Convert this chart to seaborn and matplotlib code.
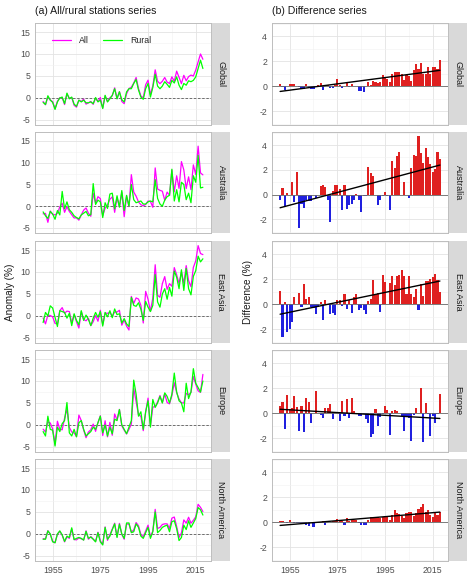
import numpy as np
import pandas as pd
import matplotlib
matplotlib.use("Agg")
import matplotlib.pyplot as plt
from matplotlib.lines import Line2D
import seaborn as sns

# --- data ---
years = list(range(1951, 2019))
regions = ["Global", "Australia", "East Asia", "Europe", "North America"]

global_all = [-0.8, -1.55, 0.2, -0.45, -0.85, -2.45, -0.75, 0.05, 0.1, -1.5,
              0.9, -0.05, 0.1, -1.65, -2.1, -0.5, -0.8, -0.25, -1.4, -1.1,
              -0.8, -1.45, -0.05, -0.8, 0.1, -2.3, 0.45, -0.85, 0.05, 0.5,
              2.3, -0.15, 1.45, -0.8, -1.3, 0.95, 2.15, 2.45, 3.4, 4.65,
              2.15, 0.45, 0.05, 3.0, 4.05, 0.75, 2.75, 6.4, 3.8, 3.25,
              3.8, 4.65, 3.6, 3.3, 4.8, 3.8, 6.1, 4.7, 3.25, 5.15,
              3.9, 4.85, 5.2, 5.0, 6.35, 8.2, 10.0, 8.8]
global_rural = [-1.0, -1.5, 0.5, -0.5, -1.0, -2.6, -0.9, 0.0, 0.2, -1.3,
                1.1, -0.2, 0.2, -1.4, -1.9, -0.5, -0.9, -0.5, -1.1, -1.1,
                -0.9, -1.3, 0.1, -0.9, -0.5, -2.4, 0.6, -0.9, -0.2, 0.6,
                2.1, -0.2, 1.4, -0.4, -0.9, 1.4, 2.1, 2.1, 3.3, 4.2,
                1.8, 0.2, -0.3, 2.1, 3.3, 0.2, 2.4, 5.4, 2.7, 2.1,
                2.7, 3.7, 3.1, 2.4, 4.0, 3.4, 4.8, 2.9, 1.9, 3.3,
                2.9, 3.9, 3.7, 4.0, 4.8, 6.7, 8.6, 6.7]
global_diff = [0.2, -0.05, -0.3, 0.05, 0.15, 0.15, 0.15, 0.05, -0.1, -0.2,
               -0.2, 0.15, -0.1, -0.25, -0.2, 0.0, 0.1, 0.25, -0.3, 0.0,
               0.1, -0.15, -0.15, 0.1, 0.6, 0.1, -0.15, 0.05, 0.25, -0.1,
               0.2, 0.05, 0.05, -0.4, -0.4, -0.45, 0.05, 0.35, 0.1, 0.45,
               0.35, 0.25, 0.35, 0.9, 0.75, 0.55, 0.35, 1.0, 1.1, 1.15,
               1.1, 0.95, 0.5, 0.9, 0.8, 0.4, 1.3, 1.8, 1.35, 1.85,
               1.0, 0.95, 1.5, 1.0, 1.55, 1.5, 1.4, 2.1]

australia_all = [-1.75, -1.65, -3.7, -1.1, -1.85, -2.0, -1.6, -0.15, 0.7, -1.4,
                 -0.1, -1.2, -1.95, -2.7, -2.65, -3.2, -2.0, -0.9, -0.4, -1.6,
                 -2.3, 3.0, 0.7, 2.2, 1.75, -2.15, -0.45, 0.3, 1.6, 2.15,
                 -1.4, 1.95, -0.15, 3.15, -2.4, 2.35, -0.1, 7.25, 3.25, 2.3,
                 1.0, 0.35, 0.1, 0.4, 1.2, 1.1, -0.25, 8.8, 3.95, 3.65,
                 3.45, 1.35, 3.25, 2.5, 8.25, 3.35, 7.0, 4.1, 10.25, 8.35,
                 4.05, 6.75, 3.8, 9.5, 7.3, 13.8, 7.65, 7.2]
australia_rural = [-1.3, -2.2, -2.8, -1.2, -1.8, -3.0, -1.0, -2.0, 3.4, -0.6,
                   1.0, -0.8, -1.4, -2.2, -2.6, -2.9, -2.0, -1.6, -1.2, -2.2,
                   -1.9, 5.2, 0.4, 1.4, 1.0, -2.6, 0.8, -0.5, 2.8, 3.0,
                   -0.6, 2.4, -0.2, 3.6, -1.0, 2.5, 0.0, 5.0, 1.5, 0.8,
                   1.0, 1.2, 0.5, 0.5, 1.0, 1.2, 1.0, 6.1, 1.8, 0.5,
                   0.0, 1.4, 2.2, 2.5, 8.5, 1.2, 3.8, 1.0, 5.5, 5.0,
                   1.5, 3.0, 0.8, 7.0, 5.5, 11.7, 4.2, 4.35]
australia_diff = [-0.45, 0.55, -0.9, 0.1, -0.05, 1.0, -0.6, 1.85, -2.7, -0.8,
                  -1.1, -0.4, -0.55, -0.5, -0.05, -0.3, 0.0, 0.7, 0.8, 0.6,
                  -0.4, -2.2, 0.3, 0.8, 0.75, 0.45, -1.25, 0.8, -1.2, -0.85,
                  -0.8, -0.45, 0.05, -0.45, -1.4, -0.15, -0.1, 2.25, 1.75, 1.5,
                  0.0, -0.85, -0.4, -0.1, 0.2, -0.1, -1.25, 2.7, 2.15, 3.15,
                  3.45, -0.05, 1.05, 0.0, -0.25, 2.15, 3.2, 3.1, 4.75, 3.35,
                  2.55, 3.75, 3.0, 2.5, 1.8, 2.1, 3.45, 2.85]

eastasia_all = [-0.45, -1.8, 0.2, 0.1, -0.2, -1.7, -1.8, 1.2, 1.9, 0.6,
                1.1, 1.0, -1.6, 0.3, -1.3, -2.75, 1.0, -0.8, -1.1, -0.5,
                -2.2, -1.3, 0.1, -1.2, 1.3, -1.95, 0.65, 0.6, 0.8, -0.05,
                0.9, 0.9, 1.3, -2.1, -0.9, -2.3, -3.2, 4.45, 2.85, 4.1,
                3.85, 2.4, -1.6, 5.6, 3.8, 1.05, 4.1, 11.65, 4.7, 4.25,
                7.35, 8.95, 6.05, 7.35, 6.75, 11.0, 9.35, 7.4, 10.0, 7.45,
                11.45, 8.05, 6.65, 11.05, 12.5, 16.0, 14.2, 13.95]
eastasia_rural = [-1.5, 0.8, 0.0, 2.3, 1.8, -0.3, -2.4, 1.2, 1.0, 0.8,
                  -0.5, 0.6, -2.2, 0.5, -1.0, -2.0, 1.2, -1.0, 0.2, -0.8,
                  -2.2, -0.5, 0.8, -0.3, 1.0, -2.3, 0.8, -0.2, 1.2, -0.4,
                  1.6, 0.3, 0.5, -1.6, -0.6, -1.8, -2.4, 4.2, 2.4, 2.2,
                  3.0, 1.5, -1.0, 3.3, 2.0, 1.0, 2.4, 9.4, 3.2, 2.0,
                  5.0, 6.2, 3.8, 6.5, 4.5, 10.2, 8.8, 6.2, 10.5, 5.8,
                  10.8, 6.2, 4.8, 9.0, 10.3, 13.6, 12.3, 13.0]
eastasia_diff = [1.05, -2.6, 0.2, -2.2, -2.0, -1.4, 0.6, 0.0, 0.9, -0.2,
                 1.6, 0.4, 0.6, -0.2, -0.3, -0.75, -0.2, 0.2, -1.3, 0.3,
                 0.0, -0.8, -0.7, -0.9, 0.3, 0.35, -0.15, 0.8, -0.4, 0.35,
                 -0.7, 0.6, 0.8, -0.5, -0.3, -0.5, -0.8, 0.25, 0.45, 1.9,
                 0.85, 0.9, -0.6, 2.3, 1.8, 0.05, 1.7, 2.25, 1.5, 2.25,
                 2.35, 2.75, 2.25, 0.85, 2.25, 0.8, 0.55, 1.2, -0.5, 1.65,
                 0.65, 1.85, 1.85, 2.05, 2.2, 2.4, 1.9, 0.95]

europe_all = [-0.95, -1.6, 0.7, 0.45, -0.9, -4.35, 0.85, -1.0, -1.1, 1.55,
              3.6, -0.55, -1.6, -1.8, -2.65, 2.25, 1.0, -1.15, -2.9, -1.6,
              -1.1, 0.2, -1.45, 0.55, 2.1, -2.4, 0.95, -2.7, 0.6, -2.35,
              2.5, 1.15, 3.55, -0.2, -1.2, -2.05, -1.0, 0.2, 8.3, 5.3,
              2.3, 1.95, -1.3, 2.95, 6.1, -0.25, 4.05, 4.2, 5.25, 6.7,
              5.05, 7.1, 5.1, 4.8, 6.65, 9.6, 7.35, 5.9, 5.05, 5.0,
              7.2, 6.85, 7.4, 11.0, 9.3, 7.75, 7.4, 11.5]
europe_rural = [-1.5, -2.5, 2.0, -1.0, -1.2, -4.8, -0.5, -1.5, 0.3, 1.0,
                5.1, -1.8, -2.5, -1.0, -2.7, 0.5, 1.0, -1.0, -2.5, -2.0,
                -1.5, -0.5, -1.0, 0.5, 2.0, -1.8, 0.0, -2.5, -0.5, -2.0,
                1.3, 1.0, 3.5, 0.0, -1.0, -2.0, -0.5, 1.0, 10.2, 7.0,
                2.0, 3.0, -1.0, 3.0, 5.5, -0.5, 5.8, 4.0, 5.0, 6.5,
                5.0, 7.3, 6.5, 5.0, 7.0, 11.8, 7.5, 5.5, 5.0, 3.0,
                9.5, 6.0, 7.5, 12.8, 9.5, 8.5, 7.5, 10.0]
europe_diff = [0.55, 0.9, -1.3, 1.45, 0.3, 0.45, 1.35, 0.5, -1.4, 0.55,
               -1.5, 1.25, 0.9, -0.8, 0.05, 1.75, 0.0, -0.15, -0.4, 0.4,
               0.4, 0.7, -0.45, 0.05, 0.1, -0.6, 0.95, -0.2, 1.1, -0.35,
               1.2, 0.15, 0.05, -0.2, -0.2, -0.05, -0.5, -0.8, -1.9, -1.7,
               0.3, -1.05, -0.3, -0.05, 0.6, 0.25, -1.75, 0.2, 0.25, 0.2,
               0.05, -0.2, -1.4, -0.2, -0.35, -2.2, -0.15, 0.4, 0.05, 2.0,
               -2.3, 0.85, -0.1, -1.8, -0.2, -0.75, -0.1, 1.5]

namerica_all = [-1.1, -1.1, 0.75, -0.05, -1.65, -2.0, -0.1, 0.6, -0.3, -1.8,
                -0.65, -1.0, 1.1, -1.25, -1.35, -0.9, -1.1, -1.35, 0.7, -1.2,
                -0.6, -1.15, -1.7, 0.4, -1.55, -2.35, 1.6, -1.45, -0.15, 1.1,
                2.45, -0.65, 2.4, -0.1, -1.2, 2.25, 2.25, 0.45, 0.9, 2.6,
                1.85, -0.1, -0.65, 0.7, 2.0, -0.6, 0.65, 5.6, 1.25, 1.5,
                2.15, 2.3, 2.3, 1.25, 3.6, 3.85, 1.7, -0.8, 0.25, 3.2,
                2.45, 3.8, 2.45, 3.1, 3.9, 6.75, 6.05, 5.1]
namerica_rural = [-1.2, -1.2, 0.7, 0.0, -1.8, -2.0, 0.0, 0.7, -0.2, -1.7,
                  -0.5, -0.8, 1.4, -1.3, -1.0, -0.8, -1.0, -1.4, 0.6, -1.0,
                  -0.7, -1.2, -1.8, 0.3, -1.8, -2.5, 1.5, -1.2, -0.5, 1.0,
                  2.3, -0.8, 2.2, 0.0, -1.0, 2.5, 2.5, 0.3, 0.5, 2.3,
                  1.5, -0.5, -1.0, 0.3, 1.5, -1.0, 0.5, 5.0, 0.3, 0.8,
                  1.5, 1.8, 2.0, 0.5, 2.8, 3.0, 1.2, -1.5, -0.8, 2.0,
                  1.0, 3.0, 1.5, 2.5, 3.5, 6.0, 5.5, 4.3]
namerica_diff = [0.1, 0.1, 0.05, -0.05, 0.15, 0.0, -0.1, -0.1, -0.1, -0.1,
                 -0.15, -0.2, -0.3, 0.05, -0.35, -0.1, -0.1, 0.05, 0.1, -0.2,
                 0.1, 0.05, 0.1, 0.1, 0.25, 0.15, 0.1, -0.25, 0.35, 0.1,
                 0.15, 0.15, 0.2, -0.1, -0.2, -0.25, -0.25, 0.15, 0.4, 0.3,
                 0.35, 0.4, 0.35, 0.4, 0.5, 0.4, 0.15, 0.6, 0.95, 0.7,
                 0.65, 0.5, 0.3, 0.75, 0.8, 0.85, 0.5, 0.7, 1.05, 1.2,
                 1.45, 0.8, 0.95, 0.6, 0.4, 0.75, 0.55, 0.8]

all_series = [global_all, australia_all, eastasia_all, europe_all, namerica_all]
rural_series = [global_rural, australia_rural, eastasia_rural, europe_rural, namerica_rural]
diff_series = [global_diff, australia_diff, eastasia_diff, europe_diff, namerica_diff]

# --- style ---
sns.set_theme(style="white")
plt.rcParams["font.family"] = ["Liberation Sans", "DejaVu Sans"]
TICK = "#4D4D4D"
GRID_MAJ = "#E3E3E3"
GRID_MIN = "#F1F1F1"
BORDER = "#BDBDBD"
STRIP = "#D9D9D9"
W, H = 474, 582

fig = plt.figure(figsize=(W / 100, H / 100), dpi=100)


def rect(x0, y0, x1, y1):
    return [x0 / W, 1 - y1 / H, (x1 - x0) / W, (y1 - y0) / H]


rows = [(23, 125), (132, 233), (241, 343), (350, 452), (459, 561)]
left_x = (35, 211)
right_x = (272, 448)


def style_axes(ax, yticks, yminor, bottom):
    ax.set_xlim(1947.6, 2021.4)
    ax.set_xticks([1955, 1975, 1995, 2015])
    ax.set_xticks([1965, 1985, 2005], minor=True)
    ax.set_yticks(yticks)
    ax.set_yticks(yminor, minor=True)
    ax.grid(which="major", color=GRID_MAJ, lw=0.6)
    ax.grid(which="minor", color=GRID_MIN, lw=0.4)
    ax.set_axisbelow(True)
    for s in ax.spines.values():
        s.set_color(BORDER)
        s.set_linewidth(0.7)
    ax.tick_params(which="major", length=2, width=0.5, color=BORDER,
                   labelsize=6.3, labelcolor=TICK, pad=1.5)
    ax.tick_params(which="minor", length=0)
    ax.set_yticklabels([f"{t:g}" for t in yticks])
    if bottom:
        ax.set_xticklabels(["1955", "1975", "1995", "2015"])
    else:
        ax.set_xticklabels([])
    ax.set_xlabel("")
    ax.set_ylabel("")


def add_strip(x1, row, label):
    sax = fig.add_axes(rect(x1 + 1, row[0], x1 + 19, row[1]))
    sax.set_facecolor(STRIP)
    sax.set_xticks([])
    sax.set_yticks([])
    for s in sax.spines.values():
        s.set_visible(False)
    sax.text(0.5, 0.5, label, rotation=-90, ha="center", va="center",
             fontsize=6.5, color="#1A1A1A", transform=sax.transAxes)


for i, reg in enumerate(regions):
    row = rows[i]
    bottom = i == len(regions) - 1

    # left: all/rural lines
    ax = fig.add_axes(rect(left_x[0], row[0], left_x[1], row[1]))
    df = pd.DataFrame({
        "year": years * 2,
        "value": all_series[i] + rural_series[i],
        "series": ["All"] * len(years) + ["Rural"] * len(years),
    })
    ax.axhline(0, color="#5A5A5A", lw=0.6, ls=(0, (3, 2)), zorder=1)
    sns.lineplot(data=df, x="year", y="value", hue="series",
                 palette={"All": "#FF00FF", "Rural": "#00FF00"},
                 lw=0.9, legend=False, ax=ax, zorder=3)
    ax.set_ylim(-6.15, 17.05)
    style_axes(ax, [-5, 0, 5, 10, 15], [-2.5, 2.5, 7.5, 12.5], bottom)
    add_strip(left_x[1], row, reg)
    if i == 0:
        handles = [Line2D([], [], color="#FF00FF", lw=0.9),
                   Line2D([], [], color="#00FF00", lw=0.9)]
        ax.legend(handles, ["All", "Rural"], ncol=2, frameon=False,
                  fontsize=6.3, loc="upper left", bbox_to_anchor=(0.05, 0.95),
                  handlelength=2.2, columnspacing=1.6, handletextpad=0.9)

    # right: difference bars with linear trend
    bx = fig.add_axes(rect(right_x[0], row[0], right_x[1], row[1]))
    dd = pd.DataFrame({"year": years, "diff": diff_series[i]})
    dd["sign"] = np.where(dd["diff"] >= 0, "pos", "neg")
    sns.barplot(data=dd, x="year", y="diff", hue="sign",
                palette={"pos": "#FF0000", "neg": "#0000FF"},
                native_scale=True, dodge=False, width=0.9, legend=False,
                edgecolor="none", ax=bx, zorder=2)
    bx.axhline(0, color="#6A6A6A", lw=0.6, zorder=3)
    sns.regplot(data=dd, x="year", y="diff", scatter=False, ci=None,
                color="black", line_kws={"lw": 1.0, "zorder": 4}, ax=bx)
    bx.set_ylim(-3.1, 5.05)
    style_axes(bx, [-2, 0, 2, 4], [-3, -1, 1, 3, 5], bottom)
    add_strip(right_x[1], row, reg)

fig.text(35 / W, 1 - 11 / H, "(a) All/rural stations series", fontsize=7.6,
         ha="left", va="center", color="#1A1A1A")
fig.text(272 / W, 1 - 11 / H, "(b) Difference series", fontsize=7.6,
         ha="left", va="center", color="#1A1A1A")
fig.text(10 / W, 1 - 292 / H, "Anomaly (%)", rotation=90, fontsize=7.2,
         ha="center", va="center", color="#1A1A1A")
fig.text(248 / W, 1 - 292 / H, "Difference (%)", rotation=90, fontsize=7.2,
         ha="center", va="center", color="#1A1A1A")

fig.savefig("out.png", dpi=100, facecolor="white")
